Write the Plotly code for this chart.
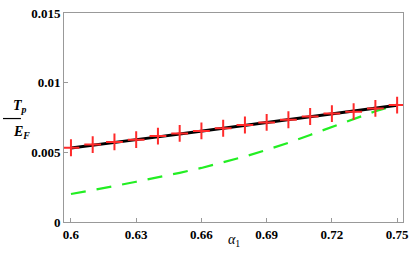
import plotly.graph_objects as go

alpha = [0.60, 0.61, 0.62, 0.63, 0.64, 0.65, 0.66, 0.67, 0.68, 0.69, 0.70, 0.71, 0.72, 0.73, 0.74, 0.75]
black_line = [0.00531, 0.00550, 0.00570, 0.00590, 0.00611, 0.00632, 0.00653, 0.00674, 0.00695, 0.00715,
              0.00735, 0.00755, 0.00775, 0.00796, 0.00817, 0.00838]
red_cross = [0.00533, 0.00556, 0.00575, 0.00591, 0.00617, 0.00636, 0.00654, 0.00673, 0.00696, 0.00715,
             0.00734, 0.00757, 0.00778, 0.00792, 0.00815, 0.00839]
green_dash = [0.00201, 0.00228, 0.00258, 0.00289, 0.00320, 0.00353, 0.00388, 0.00427, 0.00470, 0.00518,
              0.00568, 0.00625, 0.00683, 0.00742, 0.00795, 0.00839]

x_ticks = [0.60, 0.63, 0.66, 0.69, 0.72, 0.75]
x_labels = ["0.6", "0.63", "0.66", "0.69", "0.72", "0.75"]
y_ticks = [0, 0.005, 0.01, 0.015]
y_labels = ["0", "0.005", "0.01", "0.015"]

SERIF = "Liberation Serif"

fig = go.Figure()
fig.add_trace(go.Scatter(x=alpha, y=green_dash, mode="lines",
                         line=dict(color="#22ee22", width=2.2, dash="15px,11px")))
fig.add_trace(go.Scatter(x=alpha, y=black_line, mode="lines",
                         line=dict(color="black", width=3)))
fig.add_trace(go.Scatter(x=alpha, y=red_cross, mode="markers",
                         marker=dict(symbol="cross-thin", size=12, line=dict(color="#ff2a2a", width=2))))

axis_common = dict(showline=True, mirror=True, linecolor="#999999", linewidth=1,
                   ticks="inside", ticklen=4, tickcolor="#999999", showgrid=False, zeroline=False,
                   tickfont=dict(family=SERIF, size=13, color="black"))

fig.update_layout(
    width=415, height=265, showlegend=False,
    paper_bgcolor="white", plot_bgcolor="white",
    font=dict(family=SERIF, color="black"),
    margin=dict(l=64, r=6, t=8, b=43),
    xaxis=dict(range=[0.5968, 0.7527], tickvals=x_ticks, ticktext=["<b>%s</b>" % s for s in x_labels], **axis_common),
    yaxis=dict(range=[0, 0.015], tickvals=y_ticks, ticktext=["<b>%s</b>" % s for s in y_labels], **axis_common),
)

font_lbl = dict(family=SERIF, size=14, color="black")
fig.add_annotation(xref="paper", yref="paper", x=-0.155, y=0.555, showarrow=False,
                   text="<b><i>T</i></b><sub><b><i>p</i></b></sub>", font=font_lbl)
fig.add_annotation(xref="paper", yref="paper", x=-0.155, y=0.43, showarrow=False,
                   text="<b><i>E</i></b><sub><b><i>F</i></b></sub>", font=font_lbl)
fig.add_shape(type="line", xref="paper", yref="paper", x0=-0.18, x1=-0.127, y0=0.495, y1=0.495,
              line=dict(color="black", width=1.2))
fig.add_annotation(xref="paper", yref="paper", x=0.501, y=-0.14, showarrow=False,
                   text="<i>α</i><sub>1</sub>", font=dict(family=SERIF, size=14, color="black"))

fig.write_html("out.html", config={"displayModeBar": False},
               post_script="document.body.style.margin='0px';document.body.style.padding='0px';")
